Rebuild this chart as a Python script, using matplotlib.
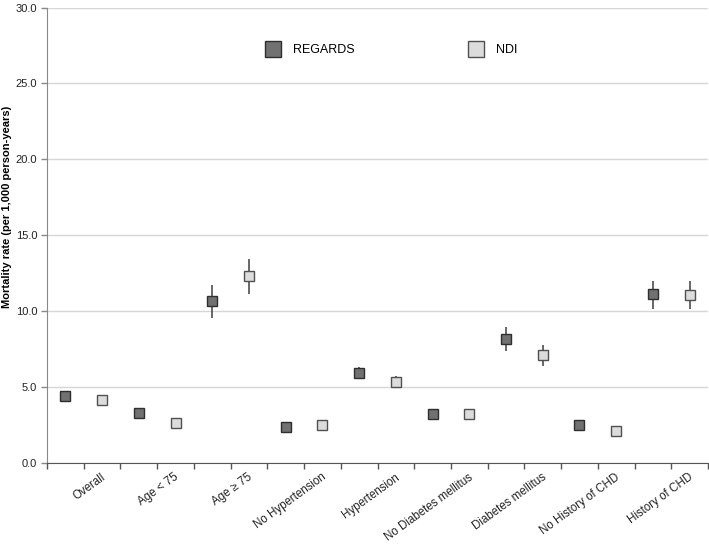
import numpy as np
import matplotlib.pyplot as plt
from matplotlib.lines import Line2D
from matplotlib.transforms import ScaledTranslation

plt.rcParams['font.family'] = ['Liberation Sans', 'DejaVu Sans']

categories = ['Overall', 'Age < 75', 'Age \u2265 75', 'No Hypertension', 'Hypertension',
              'No Diabetes mellitus', 'Diabetes mellitus', 'No History of CHD', 'History of CHD']

regards    = [4.43, 3.28, 10.64, 2.36, 5.93, 3.26, 8.17, 2.49, 11.10]
regards_lo = [4.25, 3.10, 9.54, 2.20, 5.53, 3.08, 7.40, 2.32, 10.16]
regards_hi = [4.62, 3.47, 11.70, 2.53, 6.34, 3.45, 8.94, 2.67, 11.98]

ndi    = [4.16, 2.66, 12.29, 2.53, 5.31, 3.24, 7.14, 2.11, 11.08]
ndi_lo = [3.99, 2.50, 11.10, 2.37, 4.93, 3.06, 6.41, 1.96, 10.16]
ndi_hi = [4.34, 2.83, 13.46, 2.70, 5.70, 3.42, 7.80, 2.27, 11.98]

x = np.arange(len(categories))
xr = x - 0.25
xn = x + 0.25

fig = plt.figure(figsize=(7.09, 5.53), dpi=100)
ax = fig.add_axes([47/709, 1 - 463/553, 661/709, 455.5/553])

# error bars (vertical lines, no caps)
ax.errorbar(xr, regards, yerr=[np.subtract(regards, regards_lo), np.subtract(regards_hi, regards)],
            fmt='none', ecolor='#3f3f3f', elinewidth=1.1, capsize=0, zorder=2)
ax.errorbar(xn, ndi, yerr=[np.subtract(ndi, ndi_lo), np.subtract(ndi_hi, ndi)],
            fmt='none', ecolor='#3f3f3f', elinewidth=1.1, capsize=0, zorder=2)

ax.plot(xr, regards, 's', ms=6.5, mfc='#717171', mec='#2e2e2e', mew=1.0, zorder=3)
ax.plot(xn, ndi, 's', ms=6.5, mfc='#dcdcdc', mec='#505050', mew=1.0, zorder=3)

ax.set_xlim(-0.5, 8.5)
ax.set_ylim(0, 30)
ax.set_yticks(np.arange(0, 31, 5))
ax.set_yticklabels([f'{v:.1f}' for v in np.arange(0, 31, 5)], fontsize=8, color='#222222')
ax.yaxis.grid(True, color='#d6d6d6', linewidth=1.0)
ax.set_axisbelow(True)

ax.set_xticks(x)
ax.set_xticks(np.arange(-0.5, 8.6, 1.0), minor=True)
ax.set_xticklabels(categories, fontsize=8.3, color='#222222', rotation=36,
                   ha='right', va='top', rotation_mode='anchor')
ax.tick_params(axis='x', which='both', length=4, width=1, color='#555555', pad=2)
ax.tick_params(axis='y', length=4, width=1, color='#888888', pad=3)
offset = ScaledTranslation(17/100, 0, fig.dpi_scale_trans)
for lab in ax.get_xticklabels():
    lab.set_transform(lab.get_transform() + offset)

for s in ['top', 'right']:
    ax.spines[s].set_visible(False)
ax.spines['left'].set_color('#888888')
ax.spines['bottom'].set_color('#555555')

ax.set_ylabel('Mortality rate (per 1,000 person-years)', fontsize=8, fontweight='bold')
ax.yaxis.set_label_coords(-0.053, 0.562)

handles = [Line2D([], [], ls='none', marker='s', ms=11, mfc='#717171', mec='#2e2e2e', mew=1.0),
           Line2D([], [], ls='none', marker='s', ms=11, mfc='#dcdcdc', mec='#505050', mew=1.0)]
fig.legend(handles, ['REGARDS', 'NDI'], loc='center left', bbox_to_anchor=(266.75/709, 1 - 50/553),
           ncol=2, frameon=False, fontsize=9, handlelength=1, handletextpad=1.1,
           columnspacing=9.2, borderpad=0, borderaxespad=0)

plt.savefig('out.png', dpi=100)
